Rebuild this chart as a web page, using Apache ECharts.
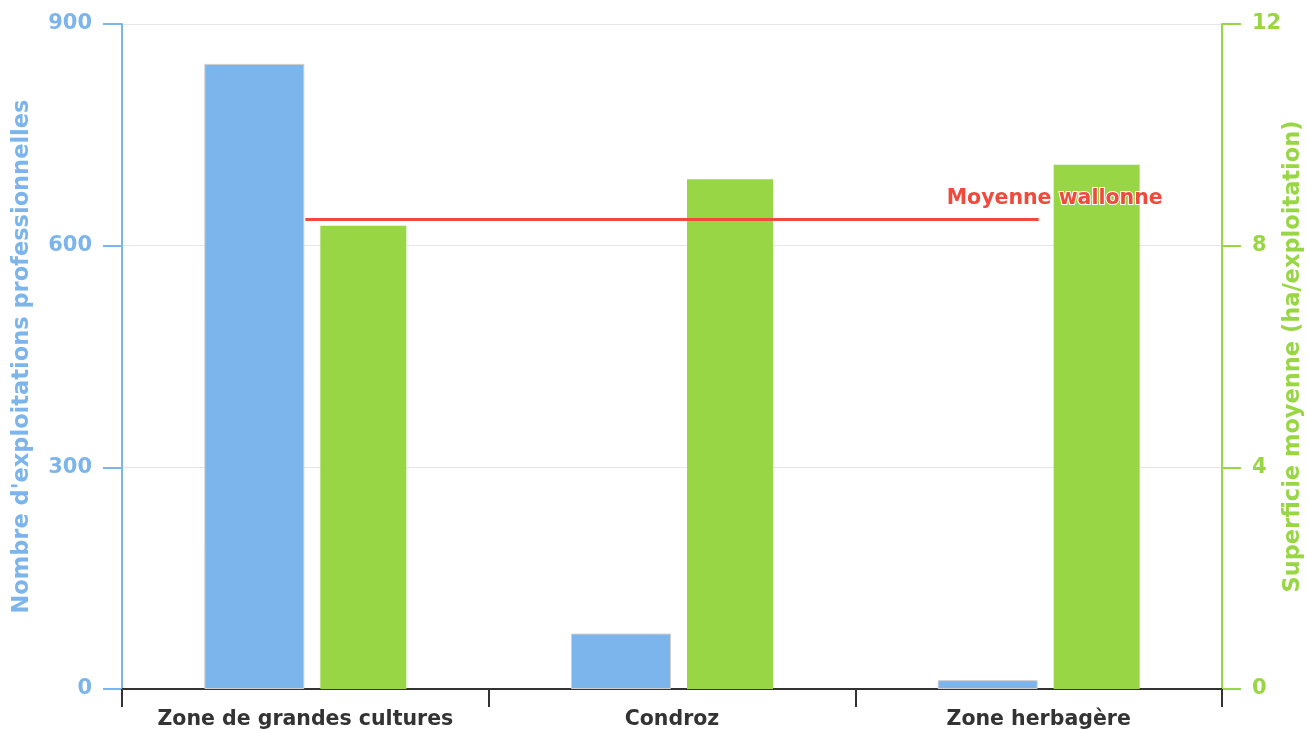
<!DOCTYPE html>
<html>
<head>
<meta charset="utf-8">
<script src="https://cdn.jsdelivr.net/npm/echarts@6/dist/echarts.min.js"></script>
<style>
  html, body { margin: 0; padding: 0; background: #fff; }
  #chart { width: 1307px; height: 730px; }
</style>
</head>
<body>
<div id="chart"></div>
<script>
// Régions agricoles
const categories = ['Zone de grandes cultures', 'Condroz', 'Zone herbagère'];
// Nombre d'exploitations professionnelles par région
const exploitations = [846, 75, 12];
// Superficie moyenne (ha/exploitation) par région
const superficie = [8.36, 9.2, 9.46];
// Moyenne wallonne de la superficie
const moyenneWallonne = 8.48;
const moyenneLabel = 'Moyenne wallonne';
// Graduations des axes
const leftAxis = { min: 0, max: 900, interval: 300 };
const rightAxis = { min: 0, max: 12, interval: 4 };
const leftName = "Nombre d'exploitations professionnelles";
const rightName = 'Superficie moyenne (ha/exploitation)';

const BLUE = '#7cb5ec';
const GREEN = '#99d645';
const RED = '#ef4a3c';
const FONT = 'DejaVu Sans';
const FS = 20.5;      // libellés des catégories et de la moyenne
const FS_TICK = 21;   // graduations
const FS_NAME = 22.5; // titres des axes verticaux

const chart = echarts.init(document.getElementById('chart'));
chart.setOption({
  animation: false,
  textStyle: { fontFamily: FONT },
  grid: { left: 122, right: 85, top: 24, bottom: 41, containLabel: false, outerBoundsMode: 'none' },
  xAxis: {
    type: 'category',
    data: categories,
    axisLine: { lineStyle: { color: '#333', width: 2 } },
    axisTick: { show: true, interval: 0, length: 18, lineStyle: { color: '#333', width: 2 } },
    axisLabel: { interval: 0, color: '#333', fontWeight: 'bold', fontSize: FS, fontFamily: FONT, margin: 20 }
  },
  yAxis: [
    {
      type: 'value',
      position: 'left',
      min: leftAxis.min, max: leftAxis.max, interval: leftAxis.interval,
      name: leftName,
      nameLocation: 'middle',
      nameRotate: 90,
      nameGap: 88,
      nameMoveOverlap: false,
      nameTextStyle: { color: BLUE, fontWeight: 'bold', fontSize: FS_NAME, fontFamily: FONT },
      axisLine: { show: true, lineStyle: { color: BLUE, width: 2 } },
      axisTick: { show: true, length: 19, lineStyle: { color: BLUE, width: 2 } },
      axisLabel: { color: BLUE, fontWeight: 'bold', fontSize: FS_TICK, fontFamily: FONT, margin: 30 },
      splitLine: { show: true, lineStyle: { color: '#e6e6e6', width: 1 } }
    },
    {
      type: 'value',
      position: 'right',
      min: rightAxis.min, max: rightAxis.max, interval: rightAxis.interval,
      name: rightName,
      nameLocation: 'middle',
      nameRotate: 90,
      nameGap: 60,
      nameMoveOverlap: false,
      nameTextStyle: { color: GREEN, fontWeight: 'bold', fontSize: FS_NAME, fontFamily: FONT },
      axisLine: { show: true, lineStyle: { color: GREEN, width: 2 } },
      axisTick: { show: true, length: 19, lineStyle: { color: GREEN, width: 2 } },
      axisLabel: { color: GREEN, fontWeight: 'bold', fontSize: FS_TICK, fontFamily: FONT, margin: 30 },
      splitLine: { show: false }
    }
  ],
  series: [
    {
      type: 'bar',
      yAxisIndex: 0,
      data: exploitations,
      barWidth: 100,
      barGap: '16%',
      itemStyle: { color: BLUE, borderColor: '#cfcfcf', borderWidth: 1 }
    },
    {
      type: 'bar',
      yAxisIndex: 1,
      data: superficie,
      barWidth: 86,
      itemStyle: { color: GREEN }
    },
    {
      // Ligne de référence : moyenne wallonne, d'un centre de catégorie à l'autre
      type: 'line',
      yAxisIndex: 1,
      data: [],
      markLine: {
        silent: true,
        symbol: ['none', 'none'],
        lineStyle: { color: RED, width: 3, type: 'solid' },
        label: {
          show: true,
          formatter: moyenneLabel,
          position: 'insideEndTop',
          distance: [-124, 10],
          color: RED,
          fontWeight: 'bold',
          fontSize: FS,
          fontFamily: FONT,
          textBorderColor: '#fff',
          textBorderWidth: 2
        },
        data: [[
          { coord: [0, moyenneWallonne] },
          { coord: [2, moyenneWallonne] }
        ]]
      }
    }
  ]
});
</script>
</body>
</html>
